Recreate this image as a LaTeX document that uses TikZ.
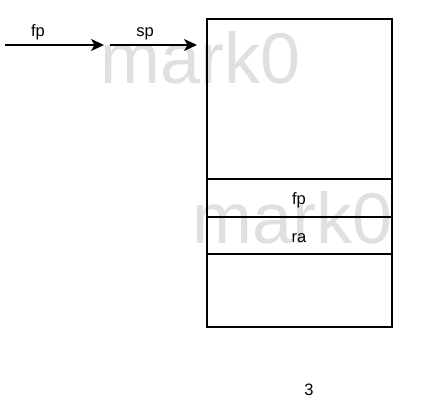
\documentclass[tikz,border=0pt]{standalone}
\usepackage{fontspec}
\setmainfont{Liberation Sans}
\usetikzlibrary{arrows.meta,positioning}
\tikzset{
  cell/.style={draw, line width=1.3pt, minimum width=185pt, inner sep=0pt},
  ptr/.style={line width=1.3pt, -{Stealth[length=13pt,width=12pt,inset=3.5pt]}},
  lbl/.style={inner sep=0pt, font=\fontsize{16.5}{18}\selectfont},
  wm/.style={text=black!12, inner sep=0pt, anchor=base, font=\fontsize{72}{72}\selectfont}
}
\begin{document}
\begin{tikzpicture}[x=1pt,y=-1pt]
\useasboundingbox (0,0) rectangle (430,407);
% watermarks
\node[wm] (w1) at (201,83) {mark0};
\node[wm] (w2) at (293,243) {mark0};
% stack frame
\node[cell, minimum height=160pt] (top) at (299.5,99) {};
\node[cell, minimum height=38pt] (fpc) at (299.5,198) {};
\node[cell, minimum height=37pt] (rac) at (299.5,235.5) {};
\node[cell, minimum height=73pt] (bot) at (299.5,290.5) {};
\node[lbl] (fpt) at (299,200) {fp};
\node[lbl] (rat) at (299,238.5) {ra};
% pointers
\coordinate (f0) at (5,45);
\coordinate (f1) at (104,45);
\coordinate (s0) at (110,45);
\coordinate (s1) at (197,45);
\draw[ptr] (f0)--(f1);
\draw[ptr] (s0)--(s1);
\node[lbl] (fpl) at (38,32) {fp};
\node[lbl] (spl) at (145,34) {sp};
\node[lbl] (num) at (309,390) {3};
\end{tikzpicture}
\end{document}
